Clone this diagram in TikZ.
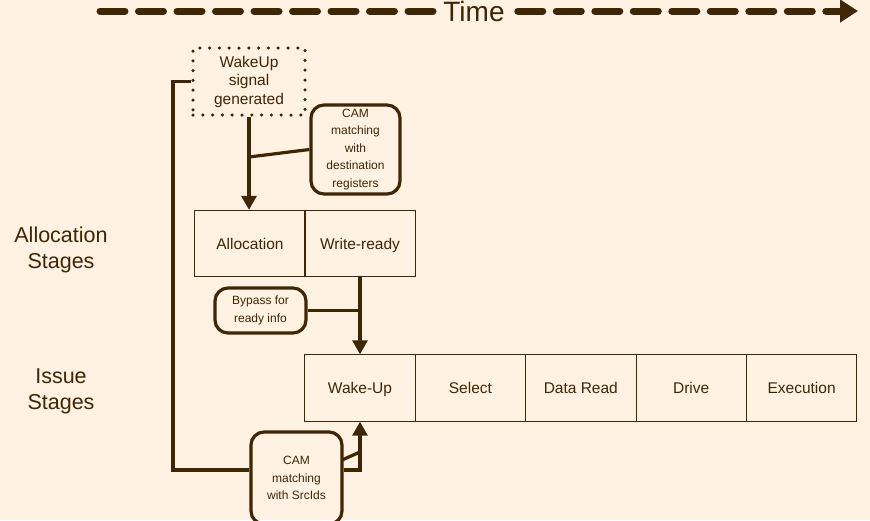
\documentclass[tikz,border=0pt]{standalone}
\usepackage{fontspec}
\setmainfont{Liberation Sans}
\usetikzlibrary{arrows.meta,calc}
\definecolor{bgc}{HTML}{FFF2E2}
\definecolor{ink}{HTML}{3F2605}
\begin{document}
\begin{tikzpicture}[x=1pt,y=-1pt,
  every node/.style={text=ink,inner sep=0pt,align=center},
  stage/.style={draw=ink,line width=0.9pt,minimum width=110.4pt,minimum height=66.5pt,text height=11pt,text depth=0pt,font=\fontsize{15.5}{18}\selectfont},
  camnote/.style={draw=ink,line width=3.2pt,rounded corners=13pt,font=\fontsize{12}{17.5}\selectfont},
  conn/.style={draw=ink,line width=3.2pt},
  arr/.style={conn,-{Triangle[length=14pt,width=15pt]}},
  sidelbl/.style={font=\fontsize{21.5}{26}\selectfont}]
\fill[bgc] (0,0) rectangle (870,520);
\clip (0,0) rectangle (870,520);
\useasboundingbox (0,0) rectangle (870,520);
% time axis
\node[font=\fontsize{28}{30}\selectfont] (time) at (474,11) {Time};
\coordinate (tl) at (100,11);
\coordinate (tr) at (858,11);
\draw[ink,line width=7pt,line cap=round,dash pattern=on 25pt off 13.5pt] (tl) -- ([xshift=-9pt]time.west);
\draw[ink,line width=7pt,line cap=round,dash pattern=on 25pt off 13.5pt,-{Triangle[length=18pt,width=22pt]}] ([xshift=13pt]time.east) -- (tr);
% side labels
\node[sidelbl] (allocl) at (61,249.5) {Allocation\\Stages};
\node[sidelbl] (issuel) at (61,391.5) {Issue\\Stages};
% wakeup signal
\node[draw=ink,line width=3.5pt,line cap=round,dash pattern=on 0pt off 9.8pt,minimum width=112pt,minimum height=67pt,font=\fontsize{15.5}{18.5}\selectfont] (wake) at (249,81.5) {WakeUp\\signal\\generated};
% CAM dest
\node[camnote,minimum width=89pt,minimum height=89pt] (cam1) at (355.5,149.5) {CAM\\matching\\with\\destination\\registers};
% allocation stages
\node[stage] (alloc) at (250,243.5) {Allocation};
\node[stage] (wr) at (360,243.5) {Write-ready};
% bypass
\node[camnote,minimum width=91pt,minimum height=45pt] (bypass) at (260.5,310.5) {Bypass for\\ready info};
% issue stages
\node[stage] (wu) at (360,388) {Wake-Up};
\node[stage] (sel) at (470.4,388) {Select};
\node[stage] (dr) at (580.8,388) {Data Read};
\node[stage] (drv) at (691.2,388) {Drive};
\node[stage] (ex) at (801.6,388) {Execution};
% CAM srcids
\node[camnote,minimum width=91pt,minimum height=92pt] (cam2) at (296.5,478) {CAM\\matching\\with SrcIds};
% connectors
\coordinate (j1) at (249,157);
\draw[arr] (wake.south) -- (wake.south |- alloc.north);
\draw[conn] (cam1.west) -- (j1);
\draw[arr] (wr.south) -- (wu.north);
\draw[conn] (bypass.east) -- (bypass.east -| wr.south);
\coordinate (fb) at (173,470);
\draw[conn] (wake.west) -| (fb) -- (fb -| cam2.west);
\draw[arr] (fb -| cam2.east) -| (wu.south);
\coordinate (s1) at (342,460);
\coordinate (s2) at (360,452);
\draw[conn] (s1) -- (s2);
\end{tikzpicture}
\end{document}
